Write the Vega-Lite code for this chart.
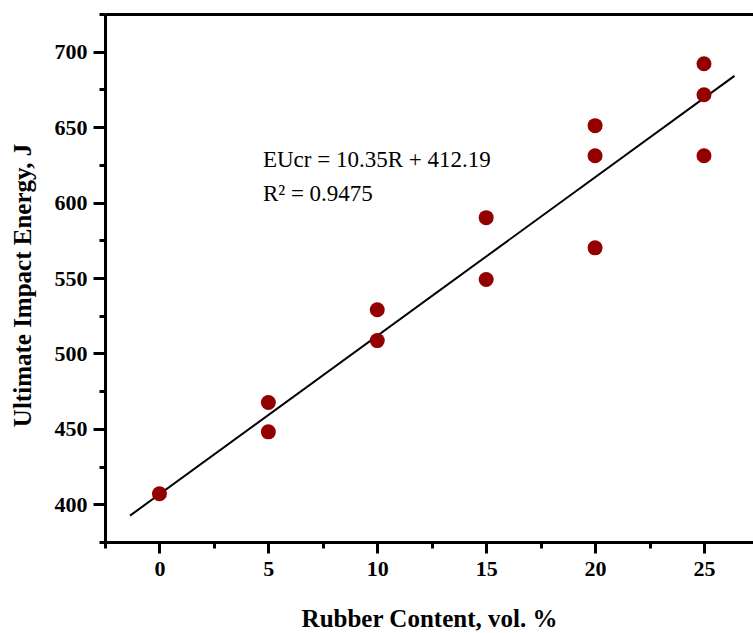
{
  "$schema": "https://vega.github.io/schema/vega-lite/v6.json",
  "autosize": "none",
  "width": 648,
  "height": 528,
  "padding": {"left": 105, "top": 14, "right": 0, "bottom": 91},
  "background": "white",
  "config": {
    "view": {"stroke": null},
    "font": "Liberation Serif",
    "axis": {
      "domainColor": "black",
      "domainWidth": 3,
      "tickColor": "black",
      "tickWidth": 3,
      "grid": false,
      "labelFont": "Liberation Serif",
      "labelFontWeight": "bold",
      "labelFontSize": 22,
      "labelColor": "black",
      "titleFont": "Liberation Serif",
      "titleFontWeight": "bold",
      "titleFontSize": 25,
      "titleColor": "black"
    }
  },
  "datasets": {
    "pts": [
      {"rubber": 0, "energy": 407},
      {"rubber": 5, "energy": 467.5},
      {"rubber": 5, "energy": 448},
      {"rubber": 10, "energy": 508.5},
      {"rubber": 10, "energy": 529},
      {"rubber": 15, "energy": 590},
      {"rubber": 15, "energy": 549},
      {"rubber": 20, "energy": 651},
      {"rubber": 20, "energy": 631},
      {"rubber": 20, "energy": 570},
      {"rubber": 25, "energy": 692},
      {"rubber": 25, "energy": 671.5},
      {"rubber": 25, "energy": 631}
    ],
    "fit": [
      {"rubber": -1.35, "energy": 392.5},
      {"rubber": 26.4, "energy": 684}
    ],
    "notes": [
      {"rubber": 4.75, "energy": 628, "label": "EUcr = 10.35R + 412.19"},
      {"rubber": 4.75, "energy": 605.5, "label": "R² = 0.9475"}
    ]
  },
  "resolve": {"axis": {"x": "independent", "y": "independent"}},
  "layer": [
    {
      "data": {"name": "fit"},
      "mark": {"type": "line", "color": "black", "strokeWidth": 2},
      "encoding": {
        "x": {"field": "rubber", "type": "quantitative",
          "scale": {"domain": [-2.5, 27.25], "nice": false, "zero": false},
          "axis": {"orient": "top", "labels": false, "ticks": false, "title": null}},
        "y": {"field": "energy", "type": "quantitative",
          "scale": {"domain": [375, 725], "nice": false, "zero": false},
          "axis": null}
      }
    },
    {
      "data": {"name": "pts"},
      "mark": {"type": "circle", "color": "#930000", "opacity": 1, "size": 225},
      "encoding": {
        "x": {"field": "rubber", "type": "quantitative",
          "scale": {"domain": [-2.5, 27.25], "nice": false, "zero": false},
          "axis": {
            "orient": "bottom",
            "values": [-2.5, 0, 2.5, 5, 7.5, 10, 12.5, 15, 17.5, 20, 22.5, 25],
            "tickSize": {"condition": {"test": "datum.value % 5 !== 0", "value": 6}, "value": 11},
            "labelExpr": "datum.value % 5 === 0 ? datum.label : ''",
            "labelPadding": 5,
            "title": "Rubber Content, vol. %",
            "titlePadding": 27
          }},
        "y": {"field": "energy", "type": "quantitative",
          "scale": {"domain": [375, 725], "nice": false, "zero": false},
          "axis": {
            "orient": "left",
            "values": [375, 400, 425, 450, 475, 500, 525, 550, 575, 600, 625, 650, 675, 700, 725],
            "tickSize": {"condition": {"test": "datum.value % 50 !== 0", "value": 6}, "value": 12},
            "labelExpr": "datum.value % 50 === 0 ? datum.label : ''",
            "labelPadding": 6,
            "title": "Ultimate Impact Energy, J",
            "titlePadding": 19,
            "titleY": 271
          }}
      }
    },
    {
      "data": {"name": "notes"},
      "mark": {"type": "text", "align": "left", "baseline": "middle", "fontSize": 23, "font": "Liberation Serif", "color": "black"},
      "encoding": {
        "x": {"field": "rubber", "type": "quantitative",
          "scale": {"domain": [-2.5, 27.25], "nice": false, "zero": false},
          "axis": null},
        "y": {"field": "energy", "type": "quantitative",
          "scale": {"domain": [375, 725], "nice": false, "zero": false},
          "axis": null},
        "text": {"field": "label"}
      }
    }
  ]
}
